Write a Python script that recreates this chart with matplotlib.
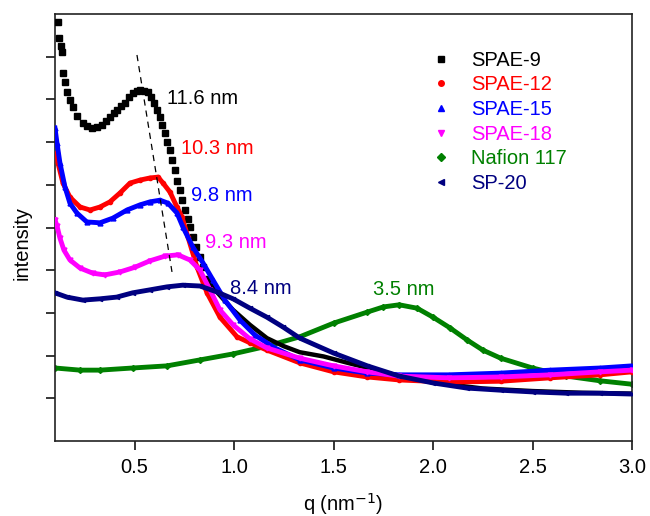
import numpy as np
import matplotlib
matplotlib.use('Agg')
import matplotlib.pyplot as plt
from matplotlib.lines import Line2D

plt.rcParams['font.family'] = ['Liberation Sans', 'DejaVu Sans']

# SAXS curves (q in nm^-1, intensity in arbitrary units)
q_spae9 = [0.115, 0.12, 0.128, 0.135, 0.14, 0.15, 0.16, 0.175, 0.19, 0.21, 0.24, 0.26, 0.286, 0.31,
           0.336, 0.356, 0.376, 0.395, 0.41, 0.43, 0.45, 0.47, 0.49, 0.51, 0.527, 0.547, 0.567, 0.585,
           0.60, 0.615, 0.628, 0.64, 0.653, 0.665, 0.678, 0.69, 0.703, 0.715, 0.728, 0.74, 0.753,
           0.766, 0.78, 0.793, 0.81, 0.827, 0.844, 0.87, 0.904, 0.95, 0.995, 1.08, 1.165, 1.25, 1.33,
           1.45, 1.58, 1.8, 2.0, 2.25, 2.5, 2.75, 3.0]
i_spae9 = [9.81, 9.44, 9.25, 9.11, 8.62, 8.4, 8.17, 7.98, 7.82, 7.6, 7.45, 7.38, 7.33, 7.36,
           7.40, 7.5, 7.59, 7.68, 7.75, 7.85, 7.92, 8.05, 8.15, 8.2, 8.22, 8.2, 8.17, 8.05,
           7.92, 7.75, 7.59, 7.4, 7.21, 7.0, 6.81, 6.58, 6.35, 6.1, 5.88, 5.65, 5.41,
           5.2, 5.01, 4.78, 4.55, 4.3, 4.07, 3.8, 3.54, 3.3, 3.07, 2.72, 2.41, 2.22, 2.08,
           1.98, 1.82, 1.56, 1.37, 1.23, 1.17, 1.13, 1.11]

q_spae12 = [0.11, 0.115, 0.14, 0.175, 0.226, 0.276, 0.326, 0.376, 0.427, 0.477, 0.527, 0.577, 0.618,
            0.643, 0.678, 0.713, 0.738, 0.768, 0.814, 0.864, 0.929, 1.015, 1.08, 1.165, 1.33, 1.5,
            1.67, 1.83, 2.08, 2.34, 2.59, 2.84, 3.0]
i_spae12 = [6.74, 6.51, 6.04, 5.71, 5.48, 5.41, 5.48, 5.60, 5.81, 6.04, 6.11, 6.16, 6.18,
            6.04, 5.83, 5.48, 5.25, 4.78, 4.07, 3.47, 2.90, 2.44, 2.30, 2.13, 1.83, 1.62,
            1.50, 1.43, 1.38, 1.40, 1.48, 1.55, 1.62]

q_spae15 = [0.10, 0.11, 0.125, 0.15, 0.175, 0.21, 0.26, 0.326, 0.391, 0.462, 0.527, 0.577, 0.628,
            0.668, 0.713, 0.743, 0.793, 0.844, 0.894, 0.954, 1.03, 1.105, 1.205, 1.33, 1.5, 1.67,
            1.83, 2.08, 2.34, 2.59, 2.84, 3.0]
i_spae15 = [7.33, 6.98, 6.51, 5.95, 5.57, 5.34, 5.13, 5.11, 5.22, 5.41, 5.53, 5.60, 5.64,
            5.57, 5.34, 5.01, 4.54, 4.17, 3.77, 3.30, 2.83, 2.48, 2.18, 1.90, 1.71, 1.59,
            1.55, 1.55, 1.59, 1.66, 1.71, 1.76]

q_spae18 = [0.10, 0.11, 0.125, 0.145, 0.175, 0.226, 0.29, 0.35, 0.427, 0.502, 0.577, 0.653, 0.718,
            0.778, 0.829, 0.879, 0.929, 0.995, 1.08, 1.165, 1.33, 1.5, 1.67, 1.83, 2.08, 2.34,
            2.59, 2.84, 3.0]
i_spae18 = [5.18, 5.04, 4.75, 4.47, 4.24, 4.05, 3.93, 3.89, 3.96, 4.07, 4.22, 4.33, 4.36,
            4.24, 4.00, 3.54, 3.07, 2.72, 2.39, 2.18, 1.94, 1.76, 1.62, 1.52, 1.48, 1.50,
            1.55, 1.62, 1.66]

q_nafion = [0.10, 0.226, 0.326, 0.49, 0.663, 0.829, 0.995, 1.165, 1.33, 1.5, 1.67, 1.75, 1.83,
            1.92, 2.0, 2.085, 2.17, 2.25, 2.34, 2.5, 2.67, 2.84, 3.0]
i_nafion = [1.71, 1.66, 1.66, 1.71, 1.76, 1.90, 2.04, 2.22, 2.44, 2.76, 3.02, 3.14, 3.19,
            3.11, 2.90, 2.65, 2.37, 2.13, 1.94, 1.71, 1.52, 1.41, 1.33]

q_sp20 = [0.10, 0.16, 0.24, 0.326, 0.41, 0.49, 0.577, 0.663, 0.743, 0.829, 0.914, 0.995, 1.08,
          1.165, 1.246, 1.33, 1.5, 1.67, 1.83, 2.0, 2.17, 2.34, 2.5, 2.67, 2.84, 3.0]
i_sp20 = [3.47, 3.37, 3.30, 3.33, 3.37, 3.47, 3.54, 3.61, 3.65, 3.63, 3.49, 3.33, 3.11,
          2.90, 2.67, 2.41, 2.06, 1.76, 1.52, 1.36, 1.24, 1.19, 1.15, 1.12, 1.12, 1.10]

# peak guide line and d-spacing labels
guide_q = [0.512, 0.688]
guide_i = [9.04, 3.96]
peak_labels = ['11.6 nm', '10.3 nm', '9.8 nm', '9.3 nm', '8.4 nm', '3.5 nm']
peak_q = [0.663, 0.733, 0.783, 0.854, 0.98, 1.698]
peak_i = [8.03, 6.84, 5.76, 4.64, 3.58, 3.54]

names = ['SPAE-9', 'SPAE-12', 'SPAE-15', 'SPAE-18', 'Nafion 117', 'SP-20']
colors = ['black', '#ff0000', '#0000ff', '#ff00ff', '#008000', '#000080']
markers = ['s', 'o', '^', 'v', 'D', '<']

fig = plt.figure(figsize=(6.5, 5.16), dpi=100)
ax = fig.add_axes([0.0846, 0.1453, 0.8877, 0.8276])

ax.plot(q_nafion, i_nafion, color=colors[4], lw=3.5, marker='D', ms=3, zorder=2)
# SPAE-9: separate squares around the peak, dense band in the tail
n_sq = 48
ax.plot(q_spae9[:n_sq], i_spae9[:n_sq], color=colors[0], ls='none', marker='s', ms=4.2, zorder=3)
ax.plot(q_spae9[n_sq - 1:], i_spae9[n_sq - 1:], color=colors[0], lw=3.2, zorder=3)
ax.plot(q_spae12, i_spae12, color=colors[1], lw=3.5, marker='o', ms=3, zorder=4)
ax.plot(q_spae15, i_spae15, color=colors[2], lw=3.5, marker='^', ms=3.5, zorder=5)
ax.plot(q_spae18, i_spae18, color=colors[3], lw=3.5, marker='v', ms=3.5, zorder=6)
ax.plot(q_sp20, i_sp20, color=colors[5], lw=3.5, marker='<', ms=3, zorder=7)

ax.plot(guide_q, guide_i, color='black', lw=0.9, ls=(0, (5, 4)), zorder=8)

label_colors = [colors[0], colors[1], colors[2], colors[3], colors[5], colors[4]]
for lab, x, y, c in zip(peak_labels, peak_q, peak_i, label_colors):
    ax.text(x, y, lab, color=c, fontsize=14.5, ha='left', va='center', zorder=9)

handles = [Line2D([], [], ls='none', marker=m, color=c, ms=4) for m, c in zip(markers, colors)]
leg = ax.legend(handles, names, loc='upper left', bbox_to_anchor=(0.651, 0.914), frameon=False,
                fontsize=14.5, labelspacing=0.28, handlelength=1.0, handletextpad=1.0,
                borderaxespad=0, borderpad=0)
for t, c in zip(leg.get_texts(), colors):
    t.set_color(c)

ax.set_xlim(0.1, 3.0)
ax.set_ylim(0, 10)
ax.set_xticks([0.5, 1.0, 1.5, 2.0, 2.5, 3.0])
ax.set_xticklabels(['0.5', '1.0', '1.5', '2.0', '2.5', '3.0'])
ax.set_yticks(np.arange(1, 10, 1))
ax.set_yticklabels([])
ax.tick_params(axis='both', direction='out', length=6.5, width=1.1, labelsize=14.5, pad=6,
               top=False, right=False)
for sp in ax.spines.values():
    sp.set_linewidth(1.2)
    sp.set_color('#222222')

ax.set_xlabel('q (nm$^{-1}$)', fontsize=14.5)
ax.set_ylabel('intensity', fontsize=14.5)
ax.xaxis.set_label_coords(0.5, -0.118)
ax.yaxis.set_label_coords(-0.04, 0.464)

fig.savefig('out.png', dpi=100)
